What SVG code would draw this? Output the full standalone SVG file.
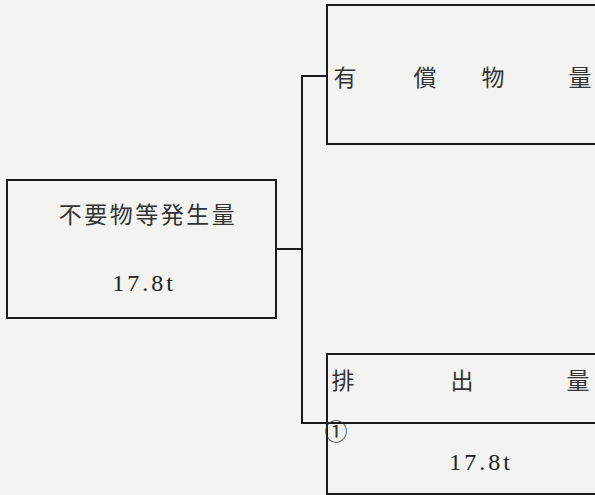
<svg xmlns="http://www.w3.org/2000/svg" width="595" height="495" viewBox="0 0 595 495">
<style>
.box{fill:none;stroke:#1a1a1a;stroke-width:2}
.ln{fill:none;stroke:#1a1a1a;stroke-width:2}
.jp{font-family:"Noto Sans CJK JP","Noto Sans CJK SC",sans-serif;font-size:23px;fill:#333}
.num{font-family:"Liberation Serif",serif;font-size:24px;fill:#222;letter-spacing:3px}
</style>
<rect width="595" height="495" fill="#f3f3f2"/>
<g id="source">
<rect class="box" x="7" y="180" width="269" height="138"/>
<text class="jp" x="148" y="223" text-anchor="middle" font-size="26" letter-spacing="2.5">不要物等発生量</text>
<text class="num" x="144" y="291" text-anchor="middle">17.8t</text>
</g>
<g id="valuable">
<rect class="box" x="327" y="5" width="280" height="139"/>
<text class="jp" x="345" y="86" text-anchor="middle">有</text>
<text class="jp" x="425" y="86" text-anchor="middle">償</text>
<text class="jp" x="493" y="86" text-anchor="middle">物</text>
<text class="jp" x="580" y="86" text-anchor="middle">量</text>
</g>
<g id="discharge">
<rect class="box" x="327" y="354" width="280" height="140"/>
<line class="ln" x1="327" y1="423" x2="600" y2="423"/>
<text class="jp" x="343" y="389" text-anchor="middle">排</text>
<text class="jp" x="462" y="389" text-anchor="middle">出</text>
<text class="jp" x="578" y="389" text-anchor="middle">量</text>
<text class="jp" x="336" y="440" text-anchor="middle" font-size="20">①</text>
<text class="num" x="481" y="470" text-anchor="middle">17.8t</text>
</g>
<g id="connectors">
<polyline class="ln" points="276,249 302,249"/>
<polyline class="ln" points="327,76 302,76 302,423 327,423"/>
</g>
</svg>
